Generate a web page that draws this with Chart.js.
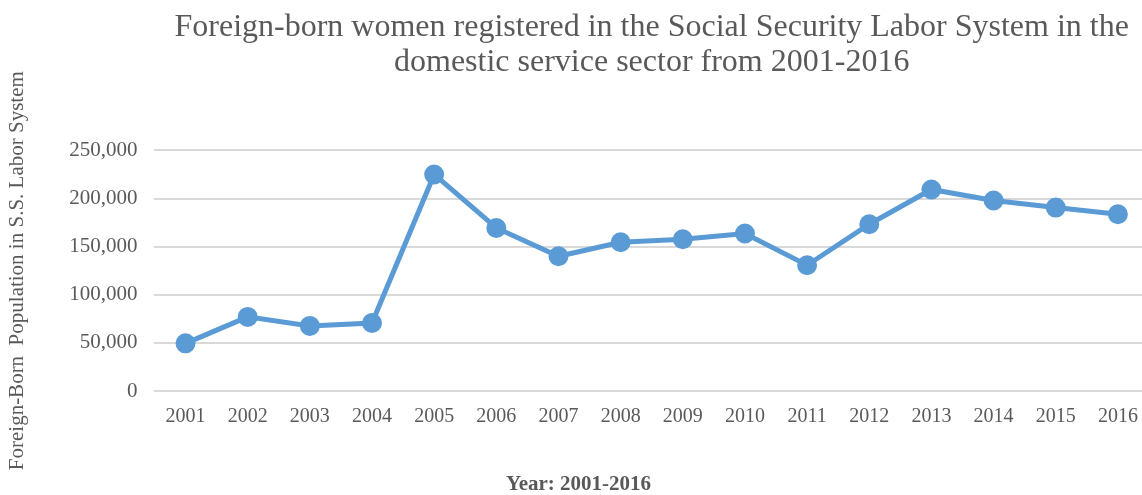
<!DOCTYPE html>
<html>
<head>
<meta charset="utf-8">
<script src="https://cdn.jsdelivr.net/npm/chart.js@4.4.0/dist/chart.umd.min.js"></script>
<style>
  body { margin: 0; background: #fff; overflow: hidden; }
  #wrap { width: 1142px; height: 495px; overflow: hidden; }
</style>
</head>
<body>
<div id="wrap"><canvas id="chart" width="1152" height="495"></canvas></div>
<script>
const years = ['2001', '2002', '2003', '2004', '2005', '2006', '2007', '2008',
  '2009', '2010', '2011', '2012', '2013', '2014', '2015', '2016'];
const women = [49500, 77000, 67600, 70700, 225000, 169400, 140000, 154600,
  157700, 163600, 130700, 173300, 209400, 197900, 190600, 183700];

const grey = '#595959';
const serif = "'Liberation Serif', 'Times New Roman', serif";

new Chart(document.getElementById('chart'), {
  type: 'line',
  data: {
    labels: years,
    datasets: [{
      data: women,
      borderColor: '#5B9BD5',
      backgroundColor: '#5B9BD5',
      borderWidth: 5,
      pointRadius: 7.5,
      pointHoverRadius: 7.5,
      tension: 0,
      clip: false
    }]
  },
  options: {
    responsive: false,
    animation: false,
    layout: { autoPadding: false, padding: { left: 5, right: 0, top: 10, bottom: 0 } },
    plugins: {
      legend: { display: false },
      tooltip: { enabled: false },
      title: {
        display: true,
        fullSize: false,
        text: ['Foreign-born women registered in the Social Security Labor System in the',
               'domestic service sector from 2001-2016'],
        color: grey,
        font: { family: serif, size: 32, weight: 'normal', lineHeight: 1.1 },
        padding: { top: 0, bottom: 70 }
      },
      subtitle: {
        display: true,
        position: 'bottom',
        text: 'Year: 2001-2016',
        color: grey,
        font: { family: serif, size: 21, weight: 'bold', lineHeight: 1 },
        padding: { top: 31, bottom: 0 }
      }
    },
    scales: {
      x: {
        offset: true,
        grid: { display: false, drawTicks: false },
        border: { display: false },
        ticks: { color: grey, font: { family: serif, size: 20 }, padding: 14 }
      },
      y: {
        min: 0,
        max: 250000,
        ticks: {
          stepSize: 50000,
          color: grey,
          font: { family: serif, size: 21 },
          padding: 17,
          callback: v => v.toLocaleString('en-US')
        },
        grid: { color: '#D9D9D9', lineWidth: 2, drawTicks: false },
        border: { display: false },
        title: {
          display: true,
          text: 'Foreign-Born  Population in S.S. Labor System',
          color: grey,
          font: { family: serif, size: 21, weight: 'normal', lineHeight: 1.2 },
          padding: { top: 0, bottom: 22 }
        }
      }
    }
  }
});
</script>
</body>
</html>
